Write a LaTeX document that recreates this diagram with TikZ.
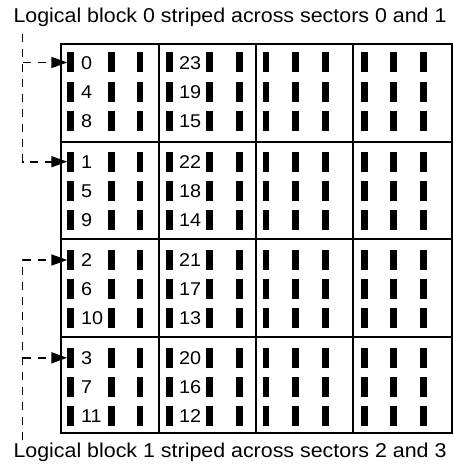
\documentclass[tikz,border=0pt]{standalone}
\usepackage{fontspec}
\setmainfont{Liberation Sans}[FakeStretch=1.07]
\usetikzlibrary{arrows.meta}
\begin{document}
\begin{tikzpicture}[x=1pt,y=-1pt,
  bar/.style={fill=black,draw=none,minimum width=6.5pt,minimum height=20pt,inner sep=0pt},
  gridcell/.style={line width=2pt},
  num/.style={anchor=base west,inner sep=0pt,font=\fontsize{18.5}{20}\selectfont},
  caption/.style={anchor=base,inner sep=0pt,font=\fontsize{20}{22}\selectfont},
  dashline/.style={line width=1.7pt,dash pattern=on 8pt off 7pt,-{Triangle[length=16pt,width=11pt]}}]
\useasboundingbox (0,0) rectangle (454,476);
% grid cells
\foreach \xl/\xr in {61/158.5,158.5/256,256/353.3,353.3/451.7}
  \foreach \yt/\yb in {44.5/141.7,141.7/239.3,239.3/337.3,337.3/432.8}
    \draw[gridcell] (\xl,\yt) rectangle (\xr,\yb);
% bars and numbers
\foreach \r/\ya/\yb/\yc in {0/62.5/91.7/120.7, 1/161.7/190.7/220, 2/260/288.8/318.3, 3/357.8/387/416.3} {
  \foreach \c/\xa/\xb/\xc in {0/70.7/111.3/140.2, 1/169.7/209.7/239.7, 2/266.2/295.5/325.5, 3/364.5/393.7/423.7} {
    \foreach \k/\y in {0/\ya,1/\yb,2/\yc} {
      \foreach \j/\x in {0/\xa,1/\xb,2/\xc} {
        \node[bar] (b-\r-\c-\k-\j) at (\x,\y) {};
      }
    }
  }
  \foreach \k/\y in {0/\ya,1/\yb,2/\yc} {
    \pgfmathtruncatemacro\na{\r+4*\k}
    \pgfmathtruncatemacro\nb{23-\r-4*\k}
    \node[num] (n-\r-0-\k) at (81,\y+6.6) {\na};
    \node[num] (n-\r-1-\k) at (179,\y+6.6) {\nb};
  }
}
% captions
\node[caption] (top) at (230,22.7) {Logical block 0 striped across sectors 0 and 1};
\node[caption] (bottom) at (230,457.3) {Logical block 1 striped across sectors 2 and 3};
% dashed leaders
\coordinate (tA) at (22.5,34);
\coordinate (tB) at (22.5,440);
\draw[dashline] (tA) |- (b-1-0-0-0.west);
\draw[dashline] (tA |- b-0-0-0-0.west) -- (b-0-0-0-0.west);
\draw[dashline] (tB) |- (b-2-0-0-0.west);
\draw[dashline] (tB |- b-3-0-0-0.west) -- (b-3-0-0-0.west);
\end{tikzpicture}
\end{document}
